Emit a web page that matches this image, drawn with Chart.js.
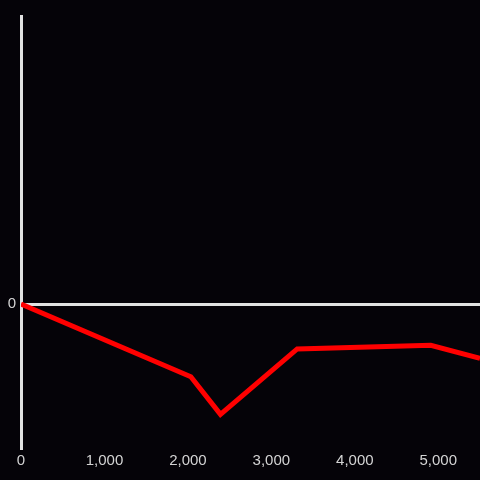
<!DOCTYPE html>
<html>
<head>
<meta charset="utf-8">
<script src="https://cdn.jsdelivr.net/npm/chart.js@4"></script>
<style>
  html, body { margin: 0; padding: 0; background: #050308; }
  #wrap { position: relative; width: 480px; height: 480px; }
</style>
</head>
<body>
<div id="wrap"><canvas id="c"></canvas></div>
<script>
// series (x in thousands-scale units, y relative to zero line)
const xValues = [0, 2035, 2390, 3310, 4910, 5500];
const yValues = [0, -0.505, -0.766, -0.312, -0.287, -0.377];
const xTicks = [0, 1000, 2000, 3000, 4000, 5000];
const yTicks = [0];

const AXIS = '#e2e2e2';
const LABEL = '#d4d4d4';
const FONT = { family: "'Liberation Sans', Arial, sans-serif", size: 15 };

const ctx = document.getElementById('c').getContext('2d');

new Chart(ctx, {
  type: 'line',
  data: {
    datasets: [{
      data: xValues.map((x, i) => ({ x, y: yValues[i] })),
      borderColor: '#ff0000',
      borderWidth: 5,
      pointRadius: 0,
      tension: 0,
      fill: false,
    }],
  },
  options: {
    responsive: true,
    maintainAspectRatio: false,
    animation: false,
    layout: { padding: { top: 16, left: 0, right: 0, bottom: 0 } },
    plugins: { legend: { display: false }, tooltip: { enabled: false } },
    scales: {
      x: {
        type: 'linear',
        min: 0,
        max: 5500,
        afterFit: s => { s.height = 32; },
        afterBuildTicks: s => { s.ticks = xTicks.map(v => ({ value: v })); },
        grid: { display: false, drawTicks: false },
        border: { display: false },
        ticks: {
          color: LABEL,
          font: FONT,
          padding: 4,
          maxRotation: 0,
          autoSkip: false,
          callback: v => v.toLocaleString('en-US'),
        },
      },
      y: {
        min: -1,
        max: 2,
        afterFit: s => { s.width = 21; },
        afterBuildTicks: s => { s.ticks = [-1, ...yTicks, 2].map(v => ({ value: v })); },
        grid: {
          drawTicks: false,
          lineWidth: 3,
          color: c => (c.tick && c.tick.value === 0 ? AXIS : 'transparent'),
        },
        border: { display: true, color: AXIS, width: 3 },
        ticks: {
          color: LABEL,
          font: FONT,
          padding: 5,
          callback: v => (yTicks.includes(v) ? String(v) : ''),
        },
      },
    },
  },
});
</script>
</body>
</html>
